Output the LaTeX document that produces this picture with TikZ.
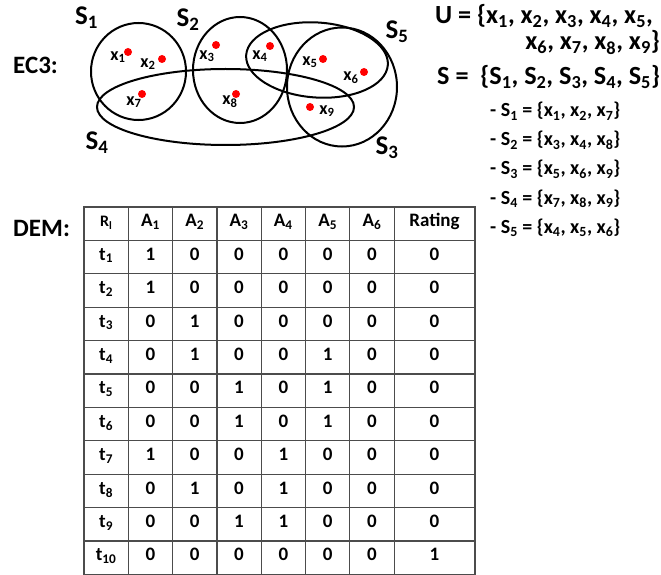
\documentclass[tikz,border=0pt]{standalone}
\usepackage{fontspec}
\setmainfont{Carlito}
\usetikzlibrary{shapes.geometric}
\newcommand{\xel}[1]{x\textsubscript{#1}}
\newcommand{\sel}[1]{S\textsubscript{#1}}

\begin{document}
\begin{tikzpicture}[
    x=1pt, y=-1pt,
    set/.style={ellipse, draw, line width=2pt, inner sep=0pt},
    pt/.style={circle, fill=red, inner sep=0pt, minimum size=8pt},
    xlab/.style={inner sep=0pt, font=\fontsize{18}{20}\selectfont\bfseries},
    setlab/.style={inner sep=0pt, font=\fontsize{27}{30}\selectfont\bfseries},
    tag/.style={inner sep=0pt, anchor=west, text depth=0pt,
                font=\fontsize{25}{28}\selectfont\bfseries},
    big/.style={inner sep=0pt, font=\fontsize{26.2}{28}\selectfont\bfseries},
    item/.style={inner sep=0pt, anchor=base west,
                 font=\fontsize{20}{22}\selectfont\bfseries},
    cell/.style={rectangle, draw=black!70, line width=1.2pt, inner sep=0pt,
                 minimum width=44.3pt, minimum height=33.4pt,
                 text height=0.63em, text depth=0pt,
                 font=\fontsize{19}{22}\selectfont\bfseries},
    ratecell/.style={cell, minimum width=80.9pt},
]
\useasboundingbox (0,0) rectangle (661,575);

% ============== set cover instance ==============
\node[tag] (ec3) at (13,65) {EC3:};

\node[set, minimum width=95pt, minimum height=97pt] (S1) at (138.5,71.5) {};
\node[set, minimum width=94pt, minimum height=106pt] (S2) at (240,70) {};
\node[set, minimum width=110pt, minimum height=119pt] (S3) at (342,87) {};
\node[set, minimum width=257pt, minimum height=76pt] (S4) at (225.5,107) {};
\node[set, minimum width=142pt, minimum height=75pt, rotate=-4] (S5) at (317,60) {};

\node[setlab] (lS1) at (86.5,17.5) {\sel{1}};
\node[setlab] (lS2) at (188,20) {\sel{2}};
\node[setlab] (lS3) at (387,148) {\sel{3}};
\node[setlab] (lS4) at (97,143) {\sel{4}};
\node[setlab] (lS5) at (397,32) {\sel{5}};

\node[pt] (p1) at (128,52) {};
\node[pt] (p2) at (162,59) {};
\node[pt] (p3) at (216,45) {};
\node[pt] (p4) at (270,46) {};
\node[pt] (p5) at (323,59) {};
\node[pt] (p6) at (364,72) {};
\node[pt] (p7) at (142,94) {};
\node[pt] (p8) at (236,94) {};
\node[pt] (p9) at (310,107) {};

\node[xlab] (x1) at (118,57) {\xel{1}};
\node[xlab] (x2) at (148,64) {\xel{2}};
\node[xlab] (x3) at (207,56) {\xel{3}};
\node[xlab] (x4) at (260,56) {\xel{4}};
\node[xlab] (x5) at (310,62) {\xel{5}};
\node[xlab] (x6) at (351,78) {\xel{6}};
\node[xlab] (x7) at (134,102) {\xel{7}};
\node[xlab] (x8) at (230,102) {\xel{8}};
\node[xlab] (x9) at (327,111) {\xel{9}};

% ============== universe and subsets ==============
\node[big, anchor=base east] (U1) at (653,24)
    {U = \{\xel{1}, \xel{2}, \xel{3}, \xel{4}, \xel{5},};
\node[big, anchor=base east] (U2) at (660,50)
    {\xel{6}, \xel{7}, \xel{8}, \xel{9}\}};
\node[big, anchor=base west] (Sall) at (437,85)
    {S =\ \ \{\sel{1}, \sel{2}, \sel{3}, \sel{4}, \sel{5}\}};

\node[item] (i1) at (490,117) {- \sel{1} = \{\xel{1}, \xel{2}, \xel{7}\}};
\node[item] (i2) at (490,146) {- \sel{2} = \{\xel{3}, \xel{4}, \xel{8}\}};
\node[item] (i3) at (490,175) {- \sel{3} = \{\xel{5}, \xel{6}, \xel{9}\}};
\node[item] (i4) at (490,204) {- \sel{4} = \{\xel{7}, \xel{8}, \xel{9}\}};
\node[item] (i5) at (490,233) {- \sel{5} = \{\xel{4}, \xel{5}, \xel{6}\}};

% ============== DEM table ==============
\node[tag] (dem) at (13,228) {DEM:};

\node[cell] (c0-0) at (106.15,223.7) {\fontsize{16}{18}\selectfont R\textsubscript{l}};
\foreach \j in {1,...,6}
    \node[cell] (c0-\j) at (106.15+44.3*\j,223.7) {A\textsubscript{\j}};
\node[ratecell] (c0-7) at (434.55,223.7) {Rating};

\foreach \vals [count=\i] in {{1,0,0,0,0,0,0},{1,0,0,0,0,0,0},{0,1,0,0,0,0,0},
        {0,1,0,0,1,0,0},{0,0,1,0,1,0,0},{0,0,1,0,1,0,0},{1,0,0,1,0,0,0},
        {0,1,0,1,0,0,0},{0,0,1,1,0,0,0},{0,0,0,0,0,0,1}} {
    \node[cell] (c\i-0) at (106.15,223.7+33.4*\i) {t\textsubscript{\i}};
    \foreach \v [count=\j] in \vals {
        \ifnum\j=7
            \node[ratecell] (c\i-\j) at (434.55,223.7+33.4*\i) {\v};
        \else
            \node[cell] (c\i-\j) at (106.15+44.3*\j,223.7+33.4*\i) {\v};
        \fi
    }
}

\end{tikzpicture}
\end{document}
